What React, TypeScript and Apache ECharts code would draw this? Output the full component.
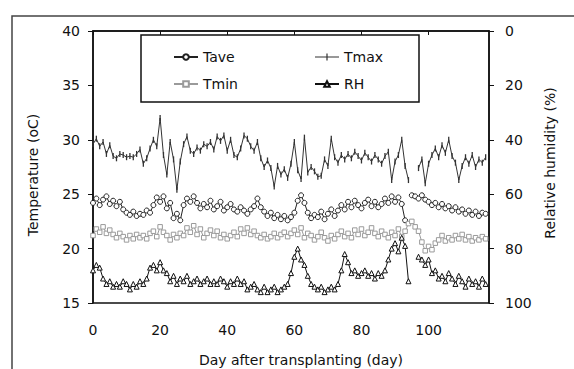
import React, { useEffect, useRef } from "react";
import * as echarts from "echarts";

const tickLabelsX = [0, 20, 40, 60, 80, 100];

const tmax = [
  29.6, 30.1, 29.4, 29.8, 28.7, 29.5, 28.5, 28.3, 28.7, 28.6,
  28.4, 28.5, 28.4, 28.7, 29.1, 27.8, 28.3, 29.2, 30.0, 29.4,
  32.0, 28.6, 26.8, 29.8, 28.2, 25.4, 28.0, 29.6, 30.3, 29.0,
  28.7, 29.3, 29.0, 29.6, 29.4, 29.8, 29.1, 30.3, 29.9, 30.4,
  29.0, 30.0, 28.6, 28.4, 29.2, 30.4, 30.1, 29.4, 29.0, 29.8,
  28.3, 27.5, 28.1, 27.4, 25.7, 27.6, 26.8, 27.3, 26.5, 27.8,
  29.8, 27.2, 26.4, 30.2, 27.0, 27.5, 27.1, 26.6, 26.7, 28.2,
  27.6, 30.1, 28.4, 27.9, 28.6, 28.2, 28.7, 28.3, 28.9, 28.5,
  28.1, 28.8, 28.4, 28.0, 28.6, 28.2, 27.8, 28.5, 28.9, 26.3,
  28.0, 28.6, 30.0, 27.6, 26.3, null, null, 27.4, 28.2, 26.0,
  27.8, 28.6, 29.2, 28.4, 29.5, 28.8, 30.0, 28.5, 27.9, 26.3,
  27.6, 28.4, 27.8, 28.6, 27.5, 28.2, 27.9, 28.4,
];

const tave = [
  24.2, 24.6, 24.0, 24.5, 24.8, 24.1, 24.4, 23.9, 24.3, 23.6,
  23.3, 23.1, 23.4, 23.0, 23.2, 23.1, 23.5, 23.3, 24.0, 24.7,
  24.3, 24.8, 23.7, 24.2, 22.8, 23.2, 22.6, 24.0, 24.6, 24.3,
  24.8, 24.2, 23.7, 24.1, 23.8, 24.4, 23.6, 23.9, 24.3, 23.5,
  23.8, 24.1, 23.6, 23.4, 23.8, 23.5, 23.2, 23.6, 23.9, 24.6,
  23.8, 23.4, 23.0, 23.3, 22.8, 23.1, 22.7, 23.0, 22.6, 22.9,
  23.3, 24.4, 24.9, 24.2, 23.3, 22.8, 23.1, 22.9, 23.4, 22.7,
  23.2, 23.6, 23.0, 23.5, 24.0, 23.6, 24.3, 23.8, 24.4, 24.0,
  23.7, 24.2, 24.5, 23.9, 24.3, 23.8, 24.1, 24.6, 24.2, 24.8,
  24.3, 24.7, 24.1, 22.6, null, 24.9, 24.8, 24.6, 24.9, 24.5,
  24.3, 24.0, 24.2, 23.8, 24.1, 23.7, 23.9, 23.5, 23.8, 23.4,
  23.6, 23.2, 23.5, 23.1, 23.4, 23.0, 23.3, 23.2,
];

const tmin = [
  21.2, 21.8, 21.5, 22.0, 21.4, 21.7, 21.3, 21.0, 21.4, 21.1,
  20.8, 21.2, 20.9, 21.3, 21.0, 21.2, 20.9, 21.4, 21.6, 21.1,
  22.0, 21.5, 21.2, 20.8, 21.3, 21.0, 21.4, 21.2, 21.9, 21.5,
  22.1, 21.3, 21.8, 21.0, 21.4, 21.7, 21.2, 21.6, 21.0, 21.3,
  20.9, 21.2, 21.5, 21.1, 21.8, 21.4, 21.9, 21.3, 21.6, 21.2,
  21.0, 21.3, 20.9, 21.1, 21.4, 21.0, 21.3, 21.5, 21.1, 21.4,
  21.7, 21.3, 21.9, 21.0, 21.4, 21.2, 20.8, 21.1, 21.5, 21.0,
  20.7, 21.2, 20.9, 21.3, 21.6, 21.1, 21.4, 21.0, 21.7, 21.3,
  21.8, 21.2, 21.5, 21.9, 21.4, 21.1, 21.6, 21.3, 21.0, 21.5,
  21.2, 21.8, 21.1, 21.6, 22.3, 22.5, 22.0, 21.6, 20.6, 19.8,
  20.2, 19.9, 20.5, 20.8, 21.2, 20.7, 21.0, 20.8, 21.2, 20.9,
  21.3, 20.8, 21.1, 20.7, 21.0, 20.8, 21.1, 20.9,
];

const rh = [
  88, 86, 87, 91, 93, 92, 94, 93, 94, 92,
  93, 95, 93, 94, 92, 93, 91, 87, 86, 88,
  85, 88, 89, 92, 90, 93, 91, 92, 90, 93,
  92, 91, 93, 92, 91, 93, 92, 93, 91, 92,
  94, 92, 93, 91, 93, 92, 95, 94, 93, 95,
  96, 94, 96, 95, 94, 96, 95, 94, 93, 89,
  83, 80, 84, 86, 90, 93, 94, 95, 94, 96,
  95, 94, 95, 93, 88, 82, 85, 89, 88, 90,
  89, 88, 90, 89, 91, 89, 90, 88, 84, 80,
  78, 81, 76, 79, 92, null, null, 83, 84, 86,
  84, 89, 88, 91, 90, 92, 89, 91, 93, 90,
  92, 94, 91, 93, 92, 94, 91, 93,
];

const FONT = "'DejaVu Sans', 'Liberation Sans', Arial, sans-serif";

const toPairs = (arr: (number | null)[]) => arr.map((v, i) => [i, v]);

const TMAX_ICON = "path://M0,4.5L24,4.5L24,5.5L0,5.5Z M11.4,1.5L12.6,1.5L12.6,8.5L11.4,8.5Z";

export default function App() {
  const ref = useRef<HTMLDivElement>(null);
  useEffect(() => {
    if (!ref.current) return;
    const chart = echarts.init(ref.current, undefined, { renderer: "svg" });
    const textStyle = { fontFamily: FONT, fontSize: 14, color: "#111" };
    const legendCommon = {
      orient: "vertical",
      top: 45,
      itemWidth: 24,
      itemHeight: 7,
      itemGap: 13,
      selectedMode: false,
      textStyle: { fontFamily: FONT, fontSize: 14, color: "#111" },
      z: 10,
    };
    chart.setOption({
      animation: false,
      backgroundColor: "#fff",
      grid: {
        left: 93,
        right: 85,
        top: 31,
        bottom: 66,
        show: true,
        borderColor: "#111",
        borderWidth: 1.5,
        containLabel: false,
      },
      xAxis: {
        type: "value",
        min: 0,
        max: 118,
        interval: 20,
        axisLine: { lineStyle: { color: "#111", width: 1.5 } },
        axisTick: { length: 4, lineStyle: { color: "#111" } },
        splitLine: { show: false },
        axisLabel: {
          ...textStyle,
          margin: 20,
          showMaxLabel: false,
          formatter: (v: number) => (tickLabelsX.includes(v) ? String(v) : ""),
        },
      },
      yAxis: [
        {
          type: "value",
          min: 15,
          max: 40,
          interval: 5,
          position: "left",
          axisLine: { show: true, lineStyle: { color: "#111", width: 1.5 } },
          axisTick: { show: true, length: 5, lineStyle: { color: "#111" } },
          splitLine: { show: false },
          axisLabel: { ...textStyle, margin: 13 },
        },
        {
          type: "value",
          min: 0,
          max: 100,
          interval: 20,
          inverse: true,
          position: "right",
          axisLine: { show: true, lineStyle: { color: "#111", width: 1.5 } },
          axisTick: { show: true, length: 5, lineStyle: { color: "#111" } },
          splitLine: { show: false },
          axisLabel: { ...textStyle, margin: 16 },
        },
      ],
      legend: [
        { ...legendCommon, data: ["Tave", "Tmin"], left: 168 },
        { ...legendCommon, data: [{ name: "Tmax", icon: TMAX_ICON }, "RH"], left: 309 },
      ],
      graphic: [
        {
          type: "rect",
          shape: { x: 12, y: 16, width: 620, height: 420 },
          style: { fill: "none", stroke: "#444", lineWidth: 1.5 },
          silent: true,
        },
        {
          type: "rect",
          shape: { x: 141, y: 35, width: 278, height: 67 },
          style: { fill: "none", stroke: "#111", lineWidth: 1.5 },
          silent: true,
        },
        {
          type: "text",
          x: 33,
          y: 175,
          rotation: Math.PI / 2,
          style: {
            text: "Temperature (oC)",
            fontFamily: FONT,
            fontSize: 14,
            fill: "#111",
            align: "center",
            verticalAlign: "middle",
            textAlign: "center",
            textVerticalAlign: "middle",
          },
        },
        {
          type: "text",
          x: 550,
          y: 163,
          rotation: Math.PI / 2,
          style: {
            text: "Relative humidity (%)",
            fontFamily: FONT,
            fontSize: 14,
            fill: "#111",
            align: "center",
            verticalAlign: "middle",
            textAlign: "center",
            textVerticalAlign: "middle",
          },
        },
        {
          type: "text",
          x: 301,
          y: 360,
          style: {
            text: "Day after transplanting (day)",
            fontFamily: FONT,
            fontSize: 14,
            fill: "#111",
            align: "center",
            verticalAlign: "middle",
            textAlign: "center",
            textVerticalAlign: "middle",
          },
        },
      ],
      series: [
        {
          name: "Tave",
          type: "line",
          yAxisIndex: 0,
          data: toPairs(tave),
          showAllSymbol: true,
          symbol: "circle",
          symbolSize: 5,
          connectNulls: false,
          lineStyle: { color: "#222", width: 1 },
          itemStyle: { color: "#fff", borderColor: "#222", borderWidth: 1 },
        },
        {
          name: "Tmax",
          type: "line",
          yAxisIndex: 0,
          data: toPairs(tmax),
          showAllSymbol: true,
          symbol: "rect",
          symbolSize: [1.3, 6],
          connectNulls: false,
          lineStyle: { color: "#333", width: 1 },
          itemStyle: { color: "#333" },
        },
        {
          name: "Tmin",
          type: "line",
          yAxisIndex: 0,
          data: toPairs(tmin),
          showAllSymbol: true,
          symbol: "rect",
          symbolSize: 4.5,
          connectNulls: false,
          lineStyle: { color: "#9a9a9a", width: 1 },
          itemStyle: { color: "#fff", borderColor: "#9a9a9a", borderWidth: 1 },
        },
        {
          name: "RH",
          type: "line",
          yAxisIndex: 1,
          data: toPairs(rh),
          showAllSymbol: true,
          symbol: "triangle",
          symbolSize: 5,
          connectNulls: false,
          lineStyle: { color: "#111", width: 1 },
          itemStyle: { color: "#fff", borderColor: "#111", borderWidth: 1 },
        },
      ],
    });
    return () => chart.dispose();
  }, []);
  return <div ref={ref} style={{ width: 574, height: 369, position: "absolute", left: 0, top: 0 }} />;
}
